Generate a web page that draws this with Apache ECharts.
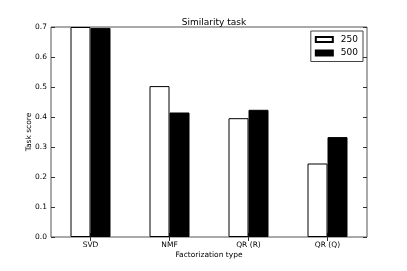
<!DOCTYPE html>
<html><head><meta charset="utf-8">
<script src="https://cdn.jsdelivr.net/npm/echarts@6/dist/echarts.min.js"></script>
<style>html,body{margin:0;padding:0;background:#fff}#c{width:407px;height:271px}</style>
</head><body><div id="c"></div>
<script>
const categories = ['SVD', 'NMF', 'QR (R)', 'QR (Q)'];
const series250 = [0.700, 0.503, 0.396, 0.245];
const series500 = [0.697, 0.415, 0.424, 0.333];
const yTicks = [0, 0.1, 0.2, 0.3, 0.4, 0.5, 0.6, 0.7];

const chart = echarts.init(document.getElementById('c'));
const font = 'DejaVu Sans';
const tickStyle = {show: true, inside: true, length: 4, lineStyle: {color: '#333', width: 1}};
chart.setOption({
  animation: false,
  title: {text: 'Similarity task', left: 209, top: 13, textAlign: 'center',
    textStyle: {fontFamily: font, fontSize: 9, fontWeight: 'normal', color: '#000'}},
  legend: {
    right: 44, top: 31, orient: 'vertical', itemWidth: 17, itemHeight: 5, itemGap: 4.5,
    padding: [4, 5, 4, 4], borderColor: '#444', borderWidth: 1, icon: 'rect',
    textStyle: {fontFamily: font, fontSize: 9, color: '#000', padding: [0, 0, 0, 3]},
    data: ['250', '500']
  },
  grid: {left: 51, right: 40, top: 27, bottom: 34, show: true, borderColor: '#555', borderWidth: 1, backgroundColor: '#fff'},
  xAxis: [{
    type: 'category', data: categories, position: 'bottom',
    name: 'Factorization type', nameLocation: 'middle', nameGap: 14, nameMoveOverlap: false,
    nameTextStyle: {fontFamily: font, fontSize: 7.5, color: '#000'},
    axisLine: {show: false},
    axisTick: Object.assign({alignWithLabel: true}, tickStyle),
    axisLabel: {fontFamily: font, fontSize: 7.5, color: '#000', margin: 4}
  }, {
    type: 'category', data: categories, position: 'top',
    axisLine: {show: false}, axisTick: Object.assign({alignWithLabel: true}, tickStyle),
    axisLabel: {show: false}
  }],
  yAxis: [{
    type: 'value', min: 0, max: 0.7, interval: 0.1,
    name: 'Task score', nameLocation: 'middle', nameGap: 18, nameRotate: 90, nameMoveOverlap: false,
    nameTextStyle: {fontFamily: font, fontSize: 7.5, color: '#000'},
    axisLine: {show: false}, axisTick: tickStyle, splitLine: {show: false},
    axisLabel: {fontFamily: font, fontSize: 7.5, color: '#000', margin: 4,
      formatter: v => yTicks.includes(+v.toFixed(1)) ? v.toFixed(1) : ''}
  }, {
    type: 'value', min: 0, max: 0.7, interval: 0.1, position: 'right',
    axisLine: {show: false}, axisTick: tickStyle, splitLine: {show: false},
    axisLabel: {show: false}
  }],
  series: [{
    name: '250', type: 'bar', data: series250, barWidth: 20, barGap: '0%',
    itemStyle: {color: '#fff', borderColor: '#000', borderWidth: 1}
  }, {
    name: '500', type: 'bar', data: series500, barWidth: 20,
    itemStyle: {color: '#000', borderColor: '#000', borderWidth: 1}
  }]
});
</script></body></html>
